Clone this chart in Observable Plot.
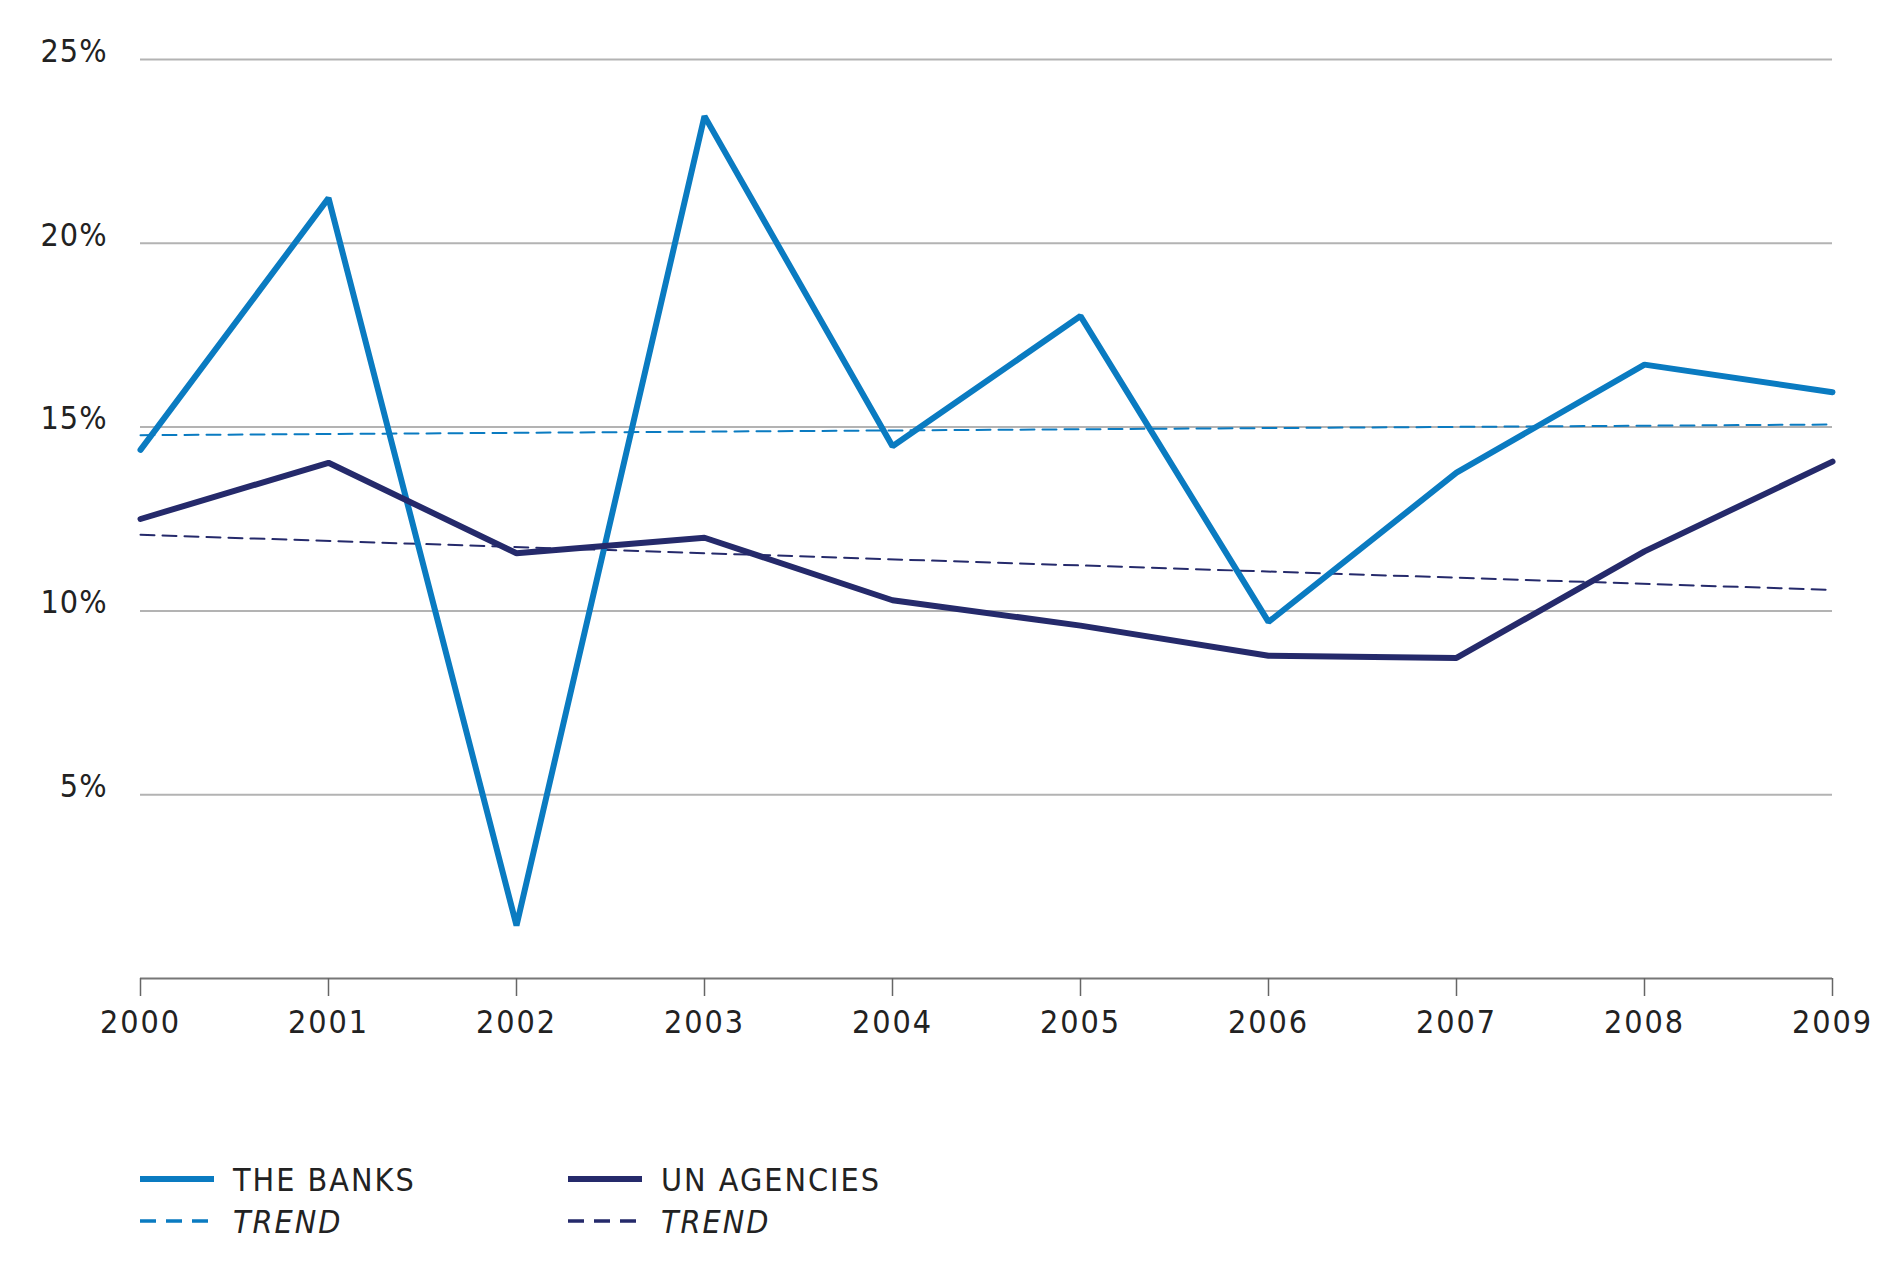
<!DOCTYPE html>
<html>
<head>
<meta charset="utf-8">
<script src="https://cdn.jsdelivr.net/npm/d3@7"></script>
<script src="https://cdn.jsdelivr.net/npm/@observablehq/plot@0.6"></script>
<style>
  html, body { margin: 0; padding: 0; background: #fff; }
  #wrap { width: 1890px; height: 1264px; position: relative; font-family: "Liberation Sans Narrow", "DejaVu Sans Condensed", "Liberation Sans", sans-serif; color: #222; }
  #chart svg text { letter-spacing: 2px; }
  #chart svg g[aria-label="y-axis tick label"] text { letter-spacing: 1px; }
  #legend { position: absolute; left: 0; top: 1100px; width: 1890px; height: 164px; }
  #legend svg text { letter-spacing: 2px; }
</style>
</head>
<body>
<div id="wrap">
  <div id="chart"></div>
  <div id="legend"></div>
</div>
<script>
const years = [2000, 2001, 2002, 2003, 2004, 2005, 2006, 2007, 2008, 2009];
const banks = [14.38, 21.23, 1.44, 23.46, 14.48, 18.02, 9.70, 13.76, 16.70, 15.95];
const unAgencies = [12.50, 14.03, 11.57, 11.99, 10.29, 9.60, 8.78, 8.72, 11.62, 14.06];
const trendYears = [2000, 2009];
const banksTrend = [14.78, 15.07];
const unTrend = [12.07, 10.57];
const yTicks = [5, 10, 15, 20, 25];
const seriesNames = ["THE BANKS", "UN AGENCIES"];
const trendName = "TREND";
const colors = ["#0a7bc1", "#252a6b"];

const FONT = '"Liberation Sans Narrow", "DejaVu Sans Condensed", "Liberation Sans", sans-serif';

const banksRows = years.map((y, i) => ({year: y, value: banks[i]}));
const unRows = years.map((y, i) => ({year: y, value: unAgencies[i]}));
const banksTrendRows = trendYears.map((y, i) => ({year: y, value: banksTrend[i]}));
const unTrendRows = trendYears.map((y, i) => ({year: y, value: unTrend[i]}));

const chart = Plot.plot({
  width: 1890,
  height: 1100,
  marginLeft: 140,
  marginRight: 58,
  marginTop: 59,
  marginBottom: 122,
  style: {fontFamily: FONT, fontSize: "32px", color: "#222", background: "#fff"},
  x: {type: "linear", domain: [2000, 2009], label: null},
  y: {domain: [0, 25], label: null},
  marks: [
    Plot.ruleY(yTicks, {stroke: "#b3b3b3", strokeWidth: 2}),
    Plot.ruleY([0], {stroke: "#777", strokeWidth: 2}),
    Plot.axisX({ticks: years, tickFormat: d => String(d), tickSize: 18, tickPadding: 14, stroke: "#666", strokeWidth: 1.5, fill: "#222", fontSize: 32, label: null}),
    Plot.axisY({ticks: yTicks, tickFormat: d => d + "%", tickSize: 0, tickPadding: 33, dy: -8, fill: "#222", fontSize: 32, label: null}),
    Plot.line(banksTrendRows, {x: "year", y: "value", stroke: colors[0], strokeWidth: 2, strokeDasharray: "14,8"}),
    Plot.line(unTrendRows, {x: "year", y: "value", stroke: colors[1], strokeWidth: 2, strokeDasharray: "14,8"}),
    Plot.line(banksRows, {x: "year", y: "value", stroke: colors[0], strokeWidth: 6, strokeLinecap: "round", strokeLinejoin: "miter"}),
    Plot.line(unRows, {x: "year", y: "value", stroke: colors[1], strokeWidth: 6, strokeLinecap: "round", strokeLinejoin: "miter"})
  ]
});
document.getElementById("chart").appendChild(chart);

// Legend
const lg = d3.select("#legend").append("svg").attr("width", 1890).attr("height", 164)
  .style("font-family", FONT).style("font-size", "32px");
const cols = [140, 568];
seriesNames.forEach((name, i) => {
  const g = lg.append("g").attr("transform", `translate(${cols[i]},0)`);
  g.append("line").attr("x1", 0).attr("x2", 74).attr("y1", 79).attr("y2", 79)
    .attr("stroke", colors[i]).attr("stroke-width", 6);
  g.append("text").attr("x", 93).attr("y", 79).attr("dy", "0.36em").attr("fill", "#222").text(name);
  g.append("line").attr("x1", 0).attr("x2", 74).attr("y1", 121).attr("y2", 121)
    .attr("stroke", colors[i]).attr("stroke-width", 3.5).attr("stroke-dasharray", "16,10");
  g.append("text").attr("x", 93).attr("y", 121).attr("dy", "0.36em").attr("fill", "#222")
    .style("font-style", "italic").text(trendName);
});
</script>
</body>
</html>
